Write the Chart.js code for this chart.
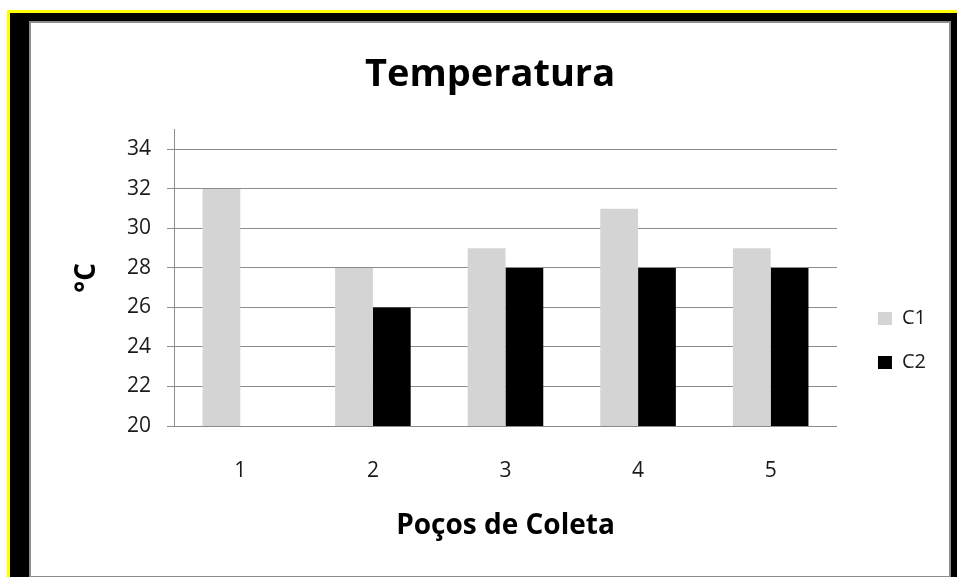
<!DOCTYPE html>
<html lang="pt">
<head>
<meta charset="utf-8">
<title>Temperatura</title>
<script src="https://cdn.jsdelivr.net/npm/chart.js@4/dist/chart.umd.min.js"></script>
<style>
  html, body { margin: 0; padding: 0; background: #ffffff; width: 957px; height: 577px; overflow: hidden; }
  #yellow { position: absolute; left: 7px; top: 10px; width: 960px; height: 580px; background: #ffff00; }
  #black  { position: absolute; left: 10px; top: 13px; width: 960px; height: 580px; background: #000000; }
  #panel  { position: absolute; left: 29px; top: 21px; width: 918px; height: 553px;
            border: 2px solid #8c8c8c; background: #ffffff; }
  #panel canvas { display: block; }
</style>
</head>
<body>
<div id="yellow"></div>
<div id="black"></div>
<div id="panel"><canvas id="chart" width="918" height="553"></canvas></div>
<script>
// Poços de coleta (categories)
const pocos = ['1', '2', '3', '4', '5'];
// Temperatura em °C por campanha
const c1 = [32, 28, 29, 31, 29];
const c2 = [null, 26, 28, 28, 28];
// Eixo Y
const yMin = 20;
const yMax = 35;
const yStep = 2;

const FONT = "'Open Sans', 'DejaVu Sans', sans-serif";
const GRID = '#8c8c8c';
const TEXT = '#1a1a1a';

// Moves the legend block next to the plot, beside the lower gridlines
const legendNudge = {
  id: 'legendNudge',
  afterLayout(chart) {
    const lg = chart.legend;
    if (!lg) return;
    const dx = -13, dy = 41;
    lg.left += dx; lg.right += dx;
    lg.top += dy; lg.bottom += dy;
  }
};

new Chart(document.getElementById('chart'), {
  type: 'bar',
  data: {
    labels: pocos,
    datasets: [
      { label: 'C1', data: c1, backgroundColor: '#d4d4d4', borderWidth: 0 },
      { label: 'C2', data: c2, backgroundColor: '#000000', borderWidth: 0 }
    ]
  },
  options: {
    responsive: false,
    animation: false,
    events: [],
    layout: { padding: 0 },
    datasets: {
      bar: { categoryPercentage: 0.57, barPercentage: 1.0 }
    },
    plugins: {
      title: {
        display: true,
        text: 'Temperatura',
        color: '#000000',
        font: { family: FONT, size: 38, weight: 'bold' },
        padding: { top: 29, bottom: 32 }
      },
      legend: {
        display: true,
        position: 'right',
        labels: {
          color: TEXT,
          font: { family: FONT, size: 20 },
          boxWidth: 14,
          boxHeight: 13,
          padding: 24
        }
      },
      tooltip: { enabled: false }
    },
    scales: {
      x: {
        grid: { display: false },
        border: { display: true, color: GRID, width: 1 },
        ticks: { color: TEXT, font: { family: FONT, size: 21 }, padding: 24 },
        title: {
          display: true,
          text: 'Poços de Coleta',
          color: '#000000',
          font: { family: FONT, size: 28, weight: 'bold' },
          padding: { top: 0, bottom: 33 }
        },
        afterFit(scale) { scale.height = 150; }
      },
      y: {
        min: yMin,
        max: yMax,
        bounds: 'data',
        grid: { color: GRID, lineWidth: 1, drawTicks: true, tickLength: 7 },
        border: { display: true, color: GRID, width: 1 },
        ticks: {
          stepSize: yStep,
          color: TEXT,
          font: { family: FONT, size: 21 },
          padding: 16
        },
        // keep only the even steps; the axis itself still runs up to yMax
        afterBuildTicks(scale) {
          scale.ticks = scale.ticks.filter(t => (t.value - yMin) % yStep === 0);
        },
        title: {
          display: true,
          text: '°C',
          color: '#000000',
          font: { family: FONT, size: 28, weight: 'bold' },
          padding: { top: 39, bottom: 0 }
        },
        afterFit(scale) { scale.width = 143; }
      },
      // empty strip between the plot and the legend
      gap: {
        type: 'linear',
        position: 'right',
        display: true,
        grid: { display: false },
        border: { display: false },
        ticks: { display: false },
        afterFit(scale) { scale.width = 30; }
      }
    }
  },
  plugins: [legendNudge]
});
</script>
</body>
</html>
